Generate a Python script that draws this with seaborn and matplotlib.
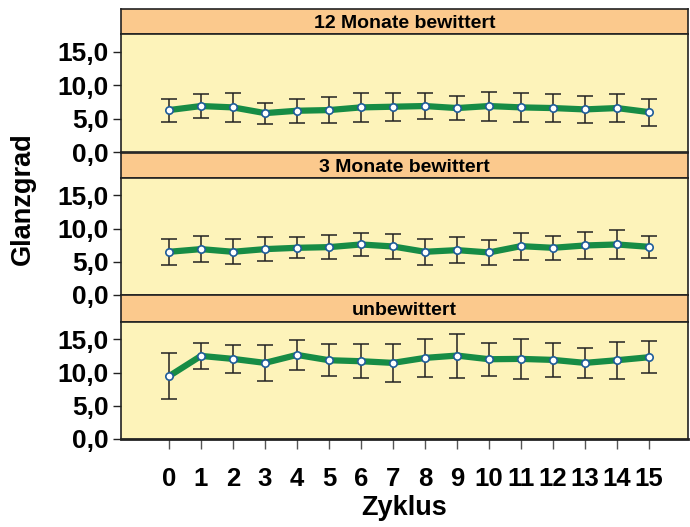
import matplotlib
matplotlib.use("Agg")
import matplotlib.pyplot as plt
import seaborn as sns
import pandas as pd
import numpy as np

cycles = list(range(16))
panel_titles = ["12 Monate bewittert", "3 Monate bewittert", "unbewittert"]

mean_12m = [6.3, 6.9, 6.7, 5.85, 6.2, 6.3, 6.7, 6.8, 6.9, 6.6, 6.9, 6.7, 6.6, 6.4, 6.6, 6.0]
err_12m = [1.7, 1.75, 2.2, 1.55, 1.8, 1.9, 2.15, 2.05, 1.9, 1.8, 2.15, 2.1, 2.05, 2.0, 2.05, 2.0]

mean_3m = [6.5, 6.9, 6.5, 6.9, 7.1, 7.2, 7.6, 7.3, 6.5, 6.75, 6.4, 7.35, 7.1, 7.45, 7.6, 7.25]
err_3m = [1.97, 1.9, 1.9, 1.8, 1.55, 1.8, 1.78, 1.9, 1.97, 1.97, 1.9, 2.05, 1.8, 2.1, 2.25, 1.7]

mean_unb = [9.45, 12.5, 12.05, 11.45, 12.65, 11.85, 11.7, 11.45, 12.2, 12.55, 12.0, 12.05, 11.9, 11.45, 11.85, 12.3]
err_unb = [3.5, 2.0, 2.1, 2.7, 2.3, 2.4, 2.57, 2.9, 2.8, 3.3, 2.5, 2.95, 2.6, 2.2, 2.77, 2.4]

ytick_vals = [0, 5, 10, 15]
ytick_labels = ["0,0", "5,0", "10,0", "15,0"]

means = [mean_12m, mean_3m, mean_unb]
errs = [err_12m, err_3m, err_unb]

sns.set_theme(style="white")
plt.rcParams['font.family'] = ['Liberation Sans', 'DejaVu Sans']
plt.rcParams['text.color'] = 'black'
plt.rcParams['xtick.color'] = 'black'
plt.rcParams['ytick.color'] = 'black'
plt.rcParams['axes.labelcolor'] = 'black'

HEADER = "#FBC98D"
BG = "#FDF3BA"
GREEN = "#178C45"

fig = plt.figure(figsize=(6.9, 5.27), dpi=100)
H = 527.0
W = 690.0
left = 121 / W
width = (688 - 121) / W

# (header_top, header_bottom, plot_bottom) in pixels
layout = [(9, 34, 152.5), (152.5, 178, 295), (295, 322, 439)]

for i, (ht, hb, pb) in enumerate(layout):
    hax = fig.add_axes([left, 1 - hb / H, width, (hb - ht) / H])
    hax.set_facecolor(HEADER)
    hax.set_xticks([])
    hax.set_yticks([])
    for s in hax.spines.values():
        s.set_color("#222222")
        s.set_linewidth(1.2)
    hax.text(0.5, 0.42, panel_titles[i], ha="center", va="center",
             fontsize=14, fontweight="bold", transform=hax.transAxes)

    ax = fig.add_axes([left, 1 - pb / H, width, (pb - hb) / H])
    ax.set_facecolor(BG)
    df = pd.DataFrame({"Zyklus": cycles, "Glanzgrad": means[i]})
    ax.errorbar(cycles, means[i], yerr=errs[i], fmt="none", ecolor="#222222",
                elinewidth=1.1, capsize=5.5, capthick=1.1, zorder=2)
    sns.lineplot(data=df, x="Zyklus", y="Glanzgrad", ax=ax, color=GREEN,
                 linewidth=4.5, zorder=3)
    ax.scatter(cycles, means[i], s=28, facecolor="white", edgecolor="#1F5C9A",
               linewidth=1.2, zorder=4)
    ax.set_xlim(-1.5, 16.22)
    ax.set_ylim(0, 17.6)
    ax.set_yticks(ytick_vals)
    ax.set_yticklabels(ytick_labels, fontsize=19, fontweight="bold")
    ax.tick_params(axis="y", direction="out", length=6, width=1, color="#222222", pad=3, left=True)
    ax.set_xlabel("")
    ax.set_ylabel("")
    for s in ax.spines.values():
        s.set_color("#222222")
        s.set_linewidth(1.2)
    if i < 2:
        ax.set_xticks([])
    else:
        ax.set_xticks(cycles)
        ax.set_xticklabels([str(c) for c in cycles], fontsize=18.5, fontweight="bold")
        ax.tick_params(axis="x", direction="out", length=7, width=1, color="#555555", pad=13, bottom=True)
        ax.spines["bottom"].set_linewidth(2)
        ax.set_xlabel("Zyklus", fontsize=19.5, fontweight="bold", labelpad=3)

fig.text(23 / W, 1 - 199 / H, "Glanzgrad", rotation=90, ha="center", va="center",
         fontsize=19.5, fontweight="bold")

fig.savefig("out.png", dpi=100)
